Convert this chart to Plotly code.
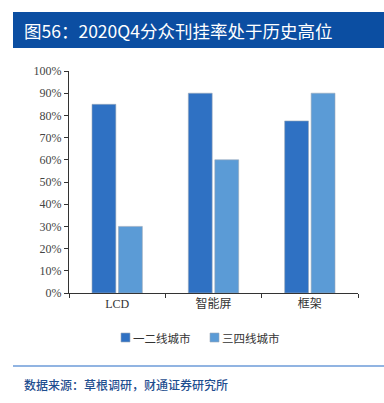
import plotly.graph_objects as go

categories = ["LCD", "智能屏", "框架"]
series_names = ["一二线城市", "三四线城市"]
tier12 = [0.85, 0.90, 0.775]
tier34 = [0.30, 0.60, 0.90]
y_ticks = [0, 0.1, 0.2, 0.3, 0.4, 0.5, 0.6, 0.7, 0.8, 0.9, 1.0]
y_tick_labels = ["0%", "10%", "20%", "30%", "40%", "50%", "60%", "70%", "80%", "90%", "100%"]

title_text = "图56：2020Q4分众刊挂率处于历史高位"
source_text = "数据来源：草根调研，财通证券研究所"

W, H = 384, 403
colors = ["#2F71C3", "#5B9BD6"]

fig = go.Figure()
for name, vals, c in zip(series_names, [tier12, tier34], colors):
    fig.add_trace(go.Bar(
        x=categories, y=vals, name=name,
        marker=dict(color=c, line=dict(color="#9AA7B8", width=0.6)),
        showlegend=False,
    ))

pl, pr = 69, 358
pt, pb = 71, 293

def px(x):
    return x / W

def py(y):
    return (H - y) / H

shapes = [
    dict(type="rect", xref="paper", yref="paper",
         x0=px(13), x1=1, y0=py(48), y1=py(12),
         fillcolor="#0B4EA2", line=dict(width=0), layer="below"),
    dict(type="line", xref="paper", yref="paper",
         x0=px(13), x1=1, y0=py(366), y1=py(366),
         line=dict(color="#6C9BD8", width=1.5)),
]
annotations = [
    dict(text=title_text, xref="paper", yref="paper", x=px(22), y=py(30),
         xanchor="left", yanchor="middle", showarrow=False,
         font=dict(family="Noto Sans CJK SC", size=17.5, color="white")),
    dict(text=source_text, xref="paper", yref="paper", x=px(22), y=py(384),
         xanchor="left", yanchor="middle", showarrow=False,
         font=dict(family="Noto Sans CJK SC", size=12, color="#1F4E8F", weight=500)),
]

# legend drawn as swatches + labels
legend_x = [121, 210]
for name, c, lx in zip(series_names, colors, legend_x):
    shapes.append(dict(type="rect", xref="paper", yref="paper",
                       x0=px(lx), x1=px(lx + 9), y0=py(342), y1=py(333),
                       fillcolor=c, line=dict(color="#9AA7B8", width=0.6)))
    annotations.append(dict(text=name, xref="paper", yref="paper", x=px(lx + 10), y=py(338),
                            xanchor="left", yanchor="middle", showarrow=False,
                            font=dict(family="Noto Sans CJK SC", size=11.5, color="#333333")))

fig.update_layout(
    width=W, height=H,
    margin=dict(l=0, r=0, t=0, b=0, autoexpand=False),
    paper_bgcolor="white", plot_bgcolor="white",
    barmode="group", bargap=0.45, bargroupgap=0.1,
    showlegend=False,
    xaxis=dict(
        domain=[px(pl), px(pr)], automargin=False,
        showline=True, linecolor="#333333", linewidth=1,
        ticks="outside", tickson="boundaries", ticklen=4, tickcolor="#333333",
        tickfont=dict(family="Liberation Serif, Noto Sans CJK SC", size=12, color="#333333"),
        showgrid=False,
    ),
    yaxis=dict(
        domain=[py(pb), py(pt)], automargin=False,
        range=[0, 1.0],
        tickvals=y_ticks, ticktext=y_tick_labels,
        showline=True, linecolor="#333333", linewidth=1,
        ticks="outside", ticklen=4, tickcolor="#333333",
        tickfont=dict(family="Liberation Serif", size=12, color="#444444"),
        showgrid=False, zeroline=False,
    ),
    shapes=shapes,
    annotations=annotations,
)

fig.write_html("out.html", config={"displayModeBar": False},
               post_script="document.body.style.margin='0';")
